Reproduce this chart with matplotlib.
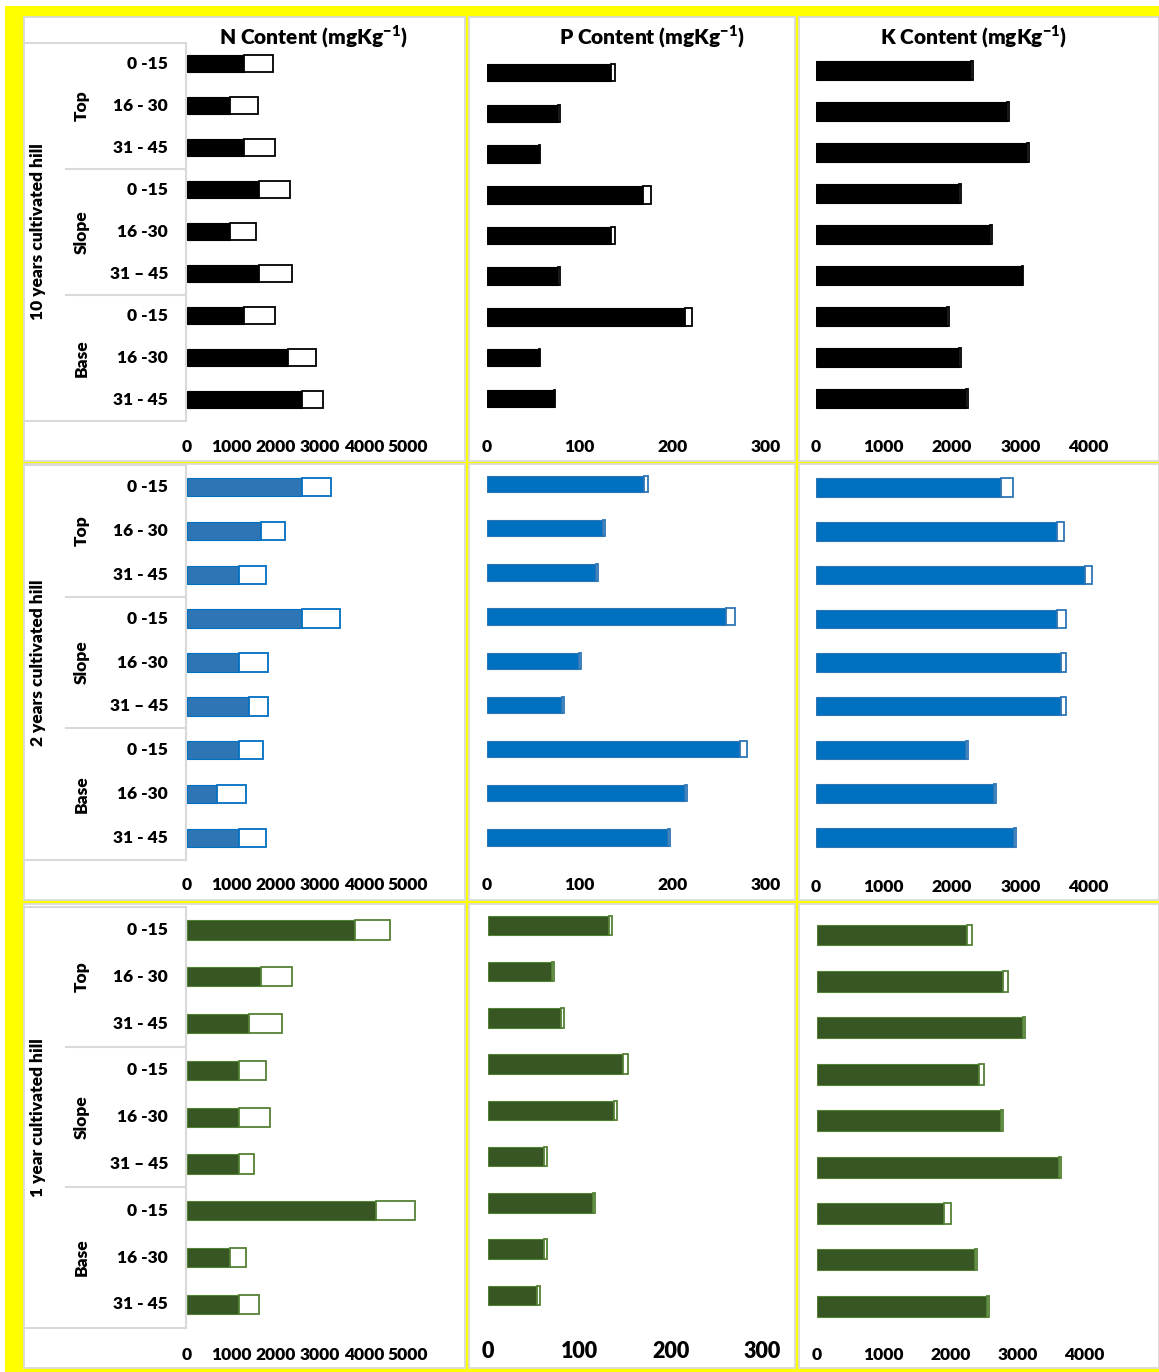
import matplotlib
matplotlib.use('Agg')
import matplotlib.pyplot as plt
from matplotlib.patches import Rectangle
from matplotlib.lines import Line2D
import matplotlib.transforms as mtrans

W, H = 1159, 1372
plt.rcParams['font.family'] = ['Lato', 'DejaVu Sans']
plt.rcParams['font.weight'] = 'bold'
plt.rcParams['mathtext.fontset'] = 'custom'
plt.rcParams['mathtext.rm'] = 'Lato'
plt.rcParams['mathtext.bf'] = 'Lato:heavy'
WT = 'heavy'

# ---------------- data ----------------
hills = ['10 years cultivated hill', '2 years cultivated hill', '1 year cultivated hill']
positions = ['Top', 'Slope', 'Base']
depths = ['0 -15', '16 - 30', '31 - 45', '0 -15', '16 -30', '31 \u2013 45', '0 -15', '16 -30', '31 - 45']
titles = ['N Content (mgKg$^{\\mathbf{-1}}$)', 'P Content (mgKg$^{\\mathbf{-1}}$)', 'K Content (mgKg$^{\\mathbf{-1}}$)']

n_ticks = [0, 1000, 2000, 3000, 4000, 5000]
p_ticks = [0, 100, 200, 300]
k_ticks = [0, 1000, 2000, 3000, 4000]

# 10 years cultivated hill
n10_mean = [1300, 970, 1300, 1620, 970, 1620, 1300, 2280, 2600]
n10_sd = [640, 640, 700, 700, 590, 760, 700, 640, 480]
p10_mean = [133.5, 77, 56.5, 168.6, 133.5, 77, 213.5, 56.5, 72]
p10_sd = [4.5, 2, 1.5, 8.4, 4.5, 2, 7.5, 1.5, 2]
k10_mean = [2270, 2800, 3090, 2100, 2560, 3020, 1920, 2100, 2210]
k10_sd = [30, 30, 30, 25, 30, 25, 35, 25, 25]

# 2 years cultivated hill
n2_mean = [2600, 1670, 1180, 2600, 1180, 1400, 1180, 690, 1180]
n2_sd = [660, 550, 600, 870, 650, 440, 540, 650, 600]
p2_mean = [169, 125.3, 117.3, 257.3, 99.8, 81.5, 272.3, 213.5, 195.2]
p2_sd = [5, 2.2, 2.5, 9.7, 1.8, 2.1, 7.6, 2.1, 2.1]
k2_mean = [2720, 3530, 3950, 3530, 3600, 3600, 2200, 2620, 2900]
k2_sd = [176, 107, 103, 141, 68, 68, 34, 29, 29]

# 1 year cultivated hill
n1_mean = [3800, 1670, 1400, 1180, 1180, 1180, 4280, 970, 1180]
n1_sd = [800, 710, 760, 600, 700, 330, 875, 370, 440]
p1_mean = [132.7, 69.5, 79.7, 148, 138, 61.4, 114.5, 61.4, 53.4]
p1_sd = [2.6, 2.5, 3, 5.5, 2.8, 2.9, 2.5, 2.9, 3]
k1_mean = [2250, 2790, 3090, 2430, 2760, 3630, 1900, 2365, 2550]
k1_sd = [70, 70, 20, 75, 25, 24, 99, 30, 25]

# ---------------- layout (pixel geometry) ----------------
fig = plt.figure(figsize=(W / 100, H / 100), dpi=100)
fig.patch.set_facecolor('white')


def fr(x0, y0, x1, y1):
    return [x0 / W, 1 - y1 / H, (x1 - x0) / W, (y1 - y0) / H]


# yellow background
fig.add_artist(Rectangle((5 / W, 0), 1, 1 - 6 / H, transform=fig.transFigure,
                         facecolor='#FFFF00', edgecolor='none', zorder=-3))

cols_px = [(24, 464.5), (469, 794.5), (798.5, 1158.5)]
rows_px = [(17, 460.5), (464, 900), (903.5, 1368)]
for (y0, y1) in rows_px:
    for (x0, x1) in cols_px:
        fig.add_artist(Rectangle((x0 / W, 1 - y1 / H), (x1 - x0) / W, (y1 - y0) / H,
                                 transform=fig.transFigure, facecolor='white',
                                 edgecolor='#D9D9D9', lw=1.3, zorder=-2))

GRAY = '#D9D9D9'


def hline(x0, x1, y):
    fig.add_artist(Line2D([x0 / W, x1 / W], [1 - y / H, 1 - y / H], color=GRAY, lw=1.5,
                          transform=fig.transFigure, zorder=-1))


def vline(x, y0, y1):
    fig.add_artist(Line2D([x / W, x / W], [1 - y0 / H, 1 - y1 / H], color=GRAY, lw=1.5,
                          transform=fig.transFigure, zorder=-1))


data = [
    [(n10_mean, n10_sd), (p10_mean, p10_sd), (k10_mean, k10_sd)],
    [(n2_mean, n2_sd), (p2_mean, p2_sd), (k2_mean, k2_sd)],
    [(n1_mean, n1_sd), (p1_mean, p1_sd), (k1_mean, k1_sd)],
]
face = [['#000000'] * 3, ['#2E75B6', '#0070C0', '#0070C0'], ['#375623'] * 3]
edge = [['#000000'] * 3, ['#0070C0', '#2E75B6', '#2E75B6'], ['#548235'] * 3]

# per panel: x0 px, px per unit, xmax, y top, y bottom, bar height, tick label y, tick font size
geom = [
    [(187, 0.0442, 6000, 42.7, 420.7, 0.41, 447, 12.5), (486.5, 0.9307, 300, 52.3, 418.7, 0.43, 446.5, 12.5),
     (815.5, 0.0683, 5000, 49.8, 418.8, 0.45, 446.5, 12.5)],
    [(187, 0.0442, 6000, 465, 860, 0.42, 885, 12.5), (486.5, 0.9307, 300, 462, 859.5, 0.37, 885, 12.5),
     (815.5, 0.0683, 5000, 465.8, 859.2, 0.42, 887, 12.5)],
    [(187, 0.0442, 6000, 906.7, 1327.7, 0.41, 1355, 12.5), (488.3, 0.912, 300, 902.2, 1318.4, 0.42, 1351, 15.5),
     (817, 0.0668, 5000, 911.8, 1329.5, 0.45, 1355, 12.5)],
]
ticks = [n_ticks, p_ticks, k_ticks]

for r in range(3):
    for c in range(3):
        x0, ppu, xmax, yt, yb, bh, ty, tfs = geom[r][c]
        mean, sd = data[r][c]
        ax = fig.add_axes(fr(x0, yt, x0 + ppu * xmax, yb))
        ax.set_facecolor('none')
        ypos = list(range(len(mean)))
        ax.barh(ypos, mean, height=bh, color=face[r][c], edgecolor=edge[r][c], lw=0.8, zorder=2)
        ax.barh(ypos, sd, left=mean, height=bh, color='white', edgecolor=edge[r][c], lw=1.3, zorder=3)
        ax.set_xlim(0, xmax)
        ax.set_ylim(len(mean) - 0.5, -0.5)
        ax.axis('off')
        trans = mtrans.blended_transform_factory(ax.transData, fig.transFigure)
        for t in ticks[c]:
            ax.text(t, 1 - ty / H, str(t), transform=trans, ha='center', va='center',
                    fontsize=tfs, fontweight=WT, color='black', clip_on=False)
        if c == 0:
            # category table
            hline(24, 186, yt)
            hline(24, 186, yb)
            vline(186, yt, yb)
            step = (yb - yt) / 9
            hline(66, 186, yt + 3 * step)
            hline(66, 186, yt + 6 * step)
            for i, d in enumerate(depths):
                fig.text(168 / W, 1 - (yt + (i + 0.5) * step) / H, d, ha='right', va='center',
                         fontsize=12.5, fontweight=WT)
            for g, p in enumerate(positions):
                fig.text(82 / W, 1 - (yt + (3 * g + 1.5) * step) / H, p, ha='center', va='center',
                         rotation=90, fontsize=12.5, fontweight=WT)
            fig.text(38 / W, 1 - (yt + yb) / 2 / H, hills[r], ha='center', va='center',
                     rotation=90, fontsize=12.5, fontweight=WT)

for c, xc in enumerate([313, 652, 974]):
    fig.text(xc / W, 1 - 37 / H, titles[c], ha='center', va='center', fontsize=15,
             fontweight=WT)

fig.savefig('out.png', dpi=100, facecolor='white')
